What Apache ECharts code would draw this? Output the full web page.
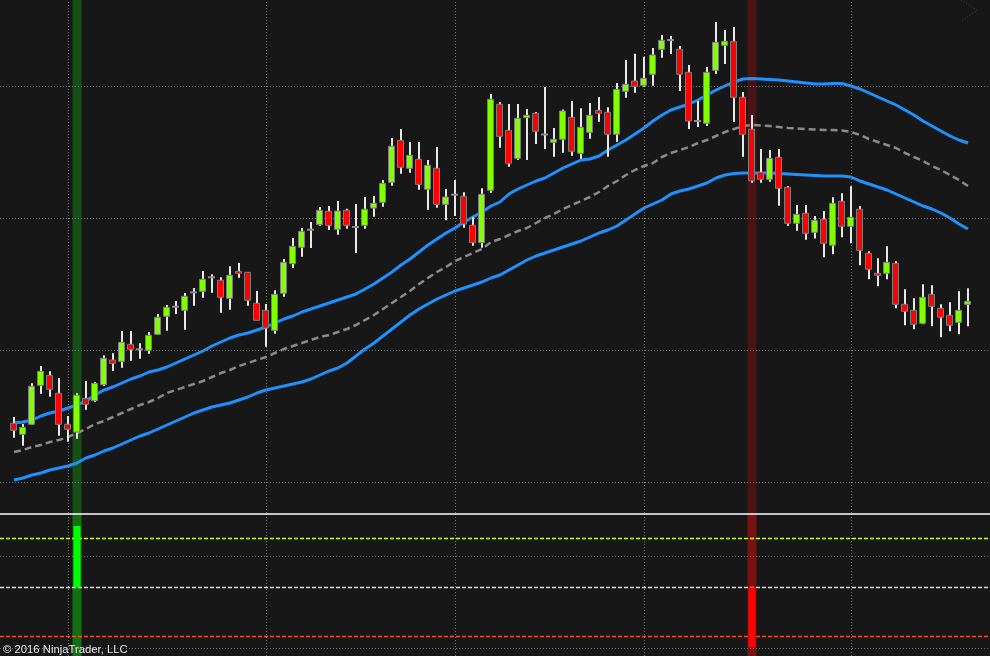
<!DOCTYPE html>
<html><head><meta charset="utf-8">
<script src="https://cdn.jsdelivr.net/npm/echarts/dist/echarts.min.js"></script>
<style>html,body{margin:0;padding:0;background:#171717;}#c{width:990px;height:656px;}</style>
</head><body><div id="c"></div>
<script>
// ---- price data (one candle per bar index) ----
const opens = [76.7,65.7,75.7,114.7,124.7,106.7,75.7,68,101.7,99.3,
115.3,140,138.7,155.7,150.7,149.7,165.7,183.7,193.3,189.7,
207.7,208.7,222.7,219.7,201.7,228.7,227.7,196.7,189.7,169.7,
206.7,236.3,252.7,270.3,275.3,288.7,270.7,289.7,273,274.7,
292,297.7,317.7,359.7,331.7,340.7,310.7,331.7,295.7,305.3,
303.7,274.7,257.3,309.7,395.7,369.7,341.7,382.3,386.7,365.5,
357.7,360.7,382.7,346.7,367.7,389.7,387.7,365.7,408.7,419,
414.7,425.7,450.7,460,450.7,427.7,379,376.7,429.7,454.7,
458.7,402.7,370.7,327.7,320.7,342.7,312.7,276.7,286.7,267.7,
280.7,254.7,298.7,273.7,290.7,246.7,226.7,226.7,236.7,195.7,
189.7,176.7,205.7,191.7,184.7,177.7,195.7];
const closes = [69.7,72.7,113.7,128.7,110.7,75.7,70.7,104.7,95.7,116.7,
141.7,136.7,157.7,150.7,150.7,164.7,182.7,192.7,193.3,203.7,
207.7,220.7,222.7,202.7,224.7,226.7,199.7,179.7,172,205.7,
237.7,253.7,268.7,270.3,289.7,274.7,289,274.7,273,290.7,
296.7,316.7,353.7,332.7,344.7,315.7,334.7,295.7,303,305.3,
276,257.3,305.7,400.7,363.7,336.7,381.7,384.7,368.7,365.5,
360.7,389,348.7,372.7,384.7,386.7,365.7,410.7,415.7,413.7,
421.7,445,459.7,460,425.7,379,379,427.7,457.7,458.7,
402.7,365.7,319.3,320.7,341.7,311.7,276.7,285.7,266.7,279.7,
256.7,296.7,273.7,282.7,249.7,230.7,224.7,237.7,195.7,188.7,
175.7,202.7,193.7,182.7,174.7,189.7,198.7];
const lows = [62.3,54.3,75,106.3,103.3,64.3,58.3,61.3,90.3,98,
114,129,132.3,139.3,141.3,146.3,165.7,169.3,186,170.3,
194.3,202.3,207.3,187.3,190.3,222.3,194.3,179.7,153.3,166.3,
203.3,232,243.3,252,274.3,270,265.3,271.3,247,271.3,
283.3,293.3,314.3,326.3,327.3,310.3,290.3,292.3,279.7,284,
272.3,254.3,252.3,307.3,352.3,333.3,340,340,356,351,
343.3,347.3,344.3,341.3,361.3,378.3,343.3,358.3,402.3,407.3,
413.3,414.3,442.3,446,409,371,373,374,426.3,436,
378,343.3,317.3,317.3,318.3,294.3,274.3,269.3,260.3,261.5,
242.7,245.7,262.7,256.7,234.7,220.7,213.7,220.7,191.7,174.7,
170.7,175.7,173.7,162.7,168.7,165.7,173.7];
const highs = [83,76,116.7,134,128.7,122,84,106.7,119,118,
144.7,146.7,169,169,156.7,168,186,195,199,207,
212,229,225.7,222.7,233.7,237,228,209,196,209.7,
241,262,272,278,293,294,299,291.3,296,303,
304,320,362,371,358,358,340,353,311,320,
307.7,283,311.7,406,397.7,396,396,391,388,413,
372,390.5,399,391.7,397,403,392.7,417,440,446.3,
443.3,452,465,464,454,435,399,433,478,470,
473,408,385,351,350,351,314,295,295,284,
289,302.7,306.7,313.7,293.7,248.7,241.7,253.7,238.7,210.7,
201.7,215.7,214.7,195.7,197.7,208.7,211.7];

// ---- channel lines ----
const upperBand = [77,78,80,84,87,89,92,95,99,105,
110,113,117,121,124,128,130,133,137,141,
145,149,154,158,162,165,167,170,173,177,
181,184,188,191,194,197,200,203,206,211,
216,222,228,235,241,248,255,261,267,272,
278,283,288,294,298,306,311,315,319,322,
327,332,336,340,341,344,350,355,360,366,
372,379,385,390,393,396,400,405,410,414,
418,421,421.5,421,420.5,420,419,418,417,416,
416,416.5,416.5,414,411,407,403,399,395,390,
385,379,374,369,364,360,357];
const middleBand = [48,50,53,55,58,60,63,67,71,76,
79,83,87,91,95,98,102,107,110,113,
116,119,123,127,130,134,137,140,143,147,
151,154,157,160,163,165,168,171,175,180,
185,191,197,203,209,216,222,228,233,239,
243,247,251,258,261,265,269,272,277,282,
286,291,295,299,303,308,314,319,325,330,
334,337,343,347,350,353,357,360,364,368,
371,374,375,374.5,374,373,372,371.5,371,370.5,
370,370,369.5,368,365,361,358,355,352,347,
343,339,334,330,325,320,314];
const lowerBand = [20,22,25,27,30,32,34,37,42,45,
49,52,56,60,64,67,71,75,79,83,
87,90,93,95,97,100,103,107,110,112,
114,116,118,121,125,129,132,137,144,151,
157,164,171,178,185,191,196,201,205,209,
212,215,218,222,225,230,235,240,244,247,
250,253,256,259,263,267,270,274,280,286,
292,296,300,306,309,311,314,317,322,325,
326.5,327,327,327,327,326.5,326,325.5,325,324.5,
324,324,324,323,319,316,313,310,306,302,
298,294,291,287,282,276,271];

// ---- grid / signal markers ----
const priceGridLevels = [413.5, 281.7, 150, 18];
const timeGridBars = [6, 28, 49, 70, 93];
const buySignalBars = [7];
const sellSignalBars = [82];
const oscBarIndex = [7, 82];
const oscBarValue = [125, -123];
const oscGridLevels = [64, -124];
const oscTopLevel = 151;
const oscUpperLevel = 100;
const oscZeroLevel = 0;
const oscLowerLevel = -100;

const XMIN = -14 / 9, XMAX = 976 / 9;

const candleData = opens.map((o, i) => [i, o, closes[i], lows[i], highs[i]]);
const toLine = arr => arr.map((v, i) => [i, v]);

function renderCandle(params, api) {
  const i = api.value(0), o = api.value(1), c = api.value(2), l = api.value(3), h = api.value(4);
  const pO = api.coord([i, o]), pC = api.coord([i, c]);
  const pL = api.coord([i, l]), pH = api.coord([i, h]);
  const x = Math.round(pO[0]);
  const top = Math.min(pO[1], pC[1]), bot = Math.max(pO[1], pC[1]);
  const children = [{
    type: 'line', shape: { x1: x, y1: pH[1], x2: x, y2: pL[1] },
    style: { stroke: '#e8e8e8', lineWidth: 2 }
  }];
  if (o === c) {
    children.push({ type: 'line', shape: { x1: x - 4, y1: top, x2: x + 3, y2: top },
      style: { stroke: '#8c8c8c', lineWidth: 2 } });
  } else {
    children.push({ type: 'rect', shape: { x: x - 3.5, y: top, width: 6, height: Math.max(bot - top, 1) },
      style: { fill: c > o ? '#7fff00' : '#ff0000', stroke: '#7c7c7c', lineWidth: 1 } });
  }
  return { type: 'group', children };
}

const dotted = { color: '#727272', width: 1, type: [1, 2] };
const noSym = ['none', 'none'];

const option = {
  backgroundColor: '#171717',
  animation: false,
  grid: [
    { left: 0, right: 0, top: 0, height: 513 },
    { left: 0, right: 0, top: 513, height: 143 }
  ],
  xAxis: [
    { type: 'value', gridIndex: 0, min: XMIN, max: XMAX, show: false },
    { type: 'value', gridIndex: 1, min: XMIN, max: XMAX, show: false }
  ],
  yAxis: [
    { type: 'value', gridIndex: 0, min: -13, max: 500, show: false },
    { type: 'value', gridIndex: 1, min: -140, max: 151.6, show: false }
  ],
  graphic: [
    { type: 'text', left: 3, top: 644, z: 100,
      style: { text: '\u00a9 2016 NinjaTrader, LLC', fill: '#e6e6e6', font: '11.3px "Liberation Sans", Arial, sans-serif' } },
    { type: 'polyline', z: 100, shape: { points: [[961, 0], [977, 10], [962, 21]] },
      style: { stroke: '#4a4a4a', lineWidth: 1, lineDash: [1, 2], fill: null } }
  ],
  series: [
    { // main panel gridlines + signal bands
      type: 'line', xAxisIndex: 0, yAxisIndex: 0, data: [], silent: true, z: 1,
      markLine: {
        silent: true, symbol: noSym, label: { show: false }, lineStyle: dotted, animation: false,
        data: priceGridLevels.map(v => ({ yAxis: v })).concat(timeGridBars.map(v => ({ xAxis: v })))
      },
      markArea: {
        silent: true, animation: false,
        data: buySignalBars.map(b => [{ xAxis: b - 0.5, itemStyle: { color: '#155015' } }, { xAxis: b + 0.5 }])
          .concat(sellSignalBars.map(b => [{ xAxis: b - 0.5, itemStyle: { color: '#4a1313' } }, { xAxis: b + 0.5 }]))
      }
    },
    { type: 'line', name: 'upper', xAxisIndex: 0, yAxisIndex: 0, data: toLine(upperBand), showSymbol: false, symbol: 'none',
      lineStyle: { color: '#1e90ff', width: 3 }, z: 3, silent: true },
    { type: 'line', name: 'middle', xAxisIndex: 0, yAxisIndex: 0, data: toLine(middleBand), showSymbol: false, symbol: 'none',
      lineStyle: { color: '#8a8a8a', width: 2.5, type: [7, 4] }, z: 3, silent: true },
    { type: 'line', name: 'lower', xAxisIndex: 0, yAxisIndex: 0, data: toLine(lowerBand), showSymbol: false, symbol: 'none',
      lineStyle: { color: '#1e90ff', width: 3 }, z: 3, silent: true },
    { type: 'custom', name: 'price', xAxisIndex: 0, yAxisIndex: 0, data: candleData, renderItem: renderCandle,
      encode: { x: 0, y: [1, 2, 3, 4] }, z: 5, silent: true },
    { // lower panel
      type: 'line', xAxisIndex: 1, yAxisIndex: 1, data: [], silent: true, z: 1,
      markLine: {
        silent: true, symbol: noSym, label: { show: false }, lineStyle: dotted, animation: false,
        data: oscGridLevels.map(v => ({ yAxis: v })).concat(timeGridBars.map(v => ({ xAxis: v }))).concat([
          { yAxis: oscTopLevel, lineStyle: { color: '#ffffff', width: 1.5, type: 'solid' } },
          { yAxis: oscUpperLevel, lineStyle: { color: '#ccff33', width: 1.3, type: [4, 2] } },
          { yAxis: oscZeroLevel, lineStyle: { color: '#dcdcdc', width: 1.3, type: [4, 2] } },
          { yAxis: oscLowerLevel, lineStyle: { color: '#ff4a1a', width: 1.3, type: [4, 2] } }
        ])
      },
      markArea: {
        silent: true, animation: false,
        data: buySignalBars.map(b => [{ xAxis: b - 0.5, itemStyle: { color: '#127012' } }, { xAxis: b + 0.5 }])
          .concat(sellSignalBars.map(b => [{ xAxis: b - 0.5, itemStyle: { color: '#7a1212' } }, { xAxis: b + 0.5 }]))
      }
    },
    { type: 'bar', name: 'osc', xAxisIndex: 1, yAxisIndex: 1, barWidth: 7, z: 5, silent: true,
      data: oscBarIndex.map((b, k) => [b, oscBarValue[k]]),
      itemStyle: { color: p => p.value[1] > 0 ? '#00ff00' : '#ff0000' } }
  ]
};

const chart = echarts.init(document.getElementById('c'), null, { renderer: 'canvas' });
chart.setOption(option);
</script>
</body></html>
